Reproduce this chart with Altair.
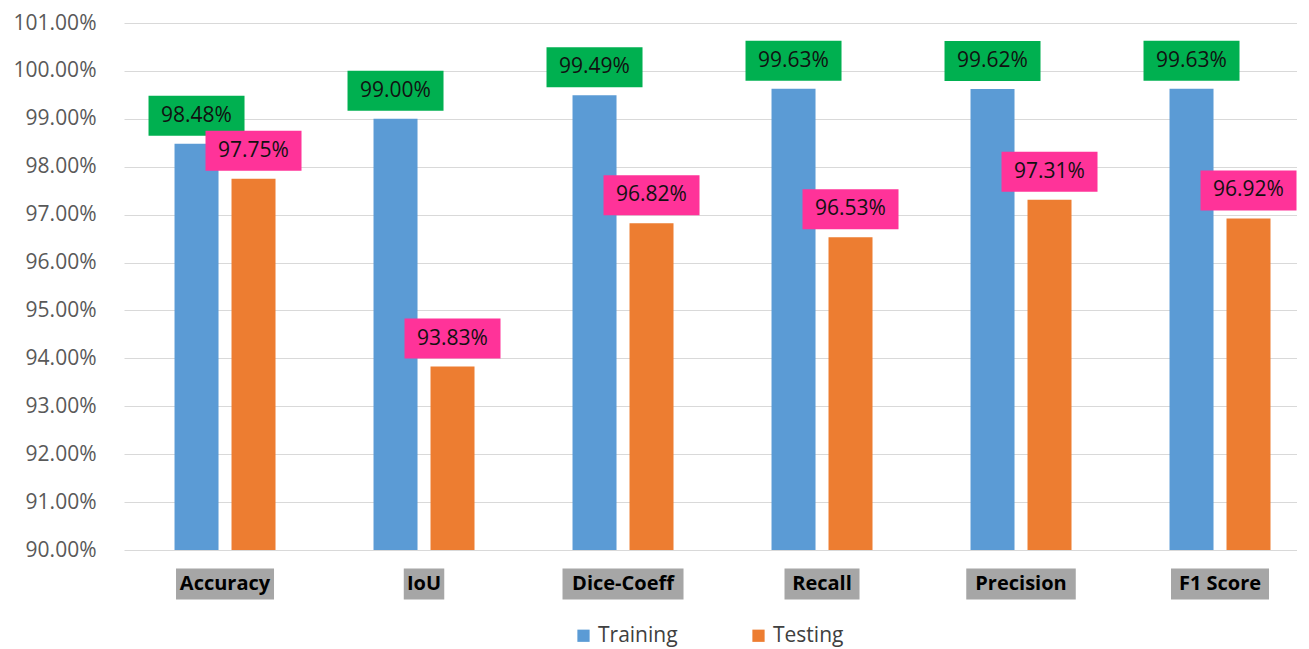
import altair as alt
import pandas as pd

categories = ["Accuracy", "IoU", "Dice-Coeff", "Recall", "Precision", "F1 Score"]
training = [0.9848, 0.9900, 0.9949, 0.9963, 0.9962, 0.9963]
testing = [0.9775, 0.9383, 0.9682, 0.9653, 0.9731, 0.9692]
series = ["Training", "Testing"]
y_ticks = [0.90, 0.91, 0.92, 0.93, 0.94, 0.95, 0.96, 0.97, 0.98, 0.99, 1.00, 1.01]

rows = []
for c, tr, te in zip(categories, training, testing):
    rows.append({"metric": c, "series": "Training", "value": tr})
    rows.append({"metric": c, "series": "Testing", "value": te})
df = pd.DataFrame(rows)
cat_df = pd.DataFrame({"metric": categories})

FONT = "Open Sans"
BLUE, ORANGE = "#5b9bd5", "#ed7d31"
GREEN, PINK = "#00b050", "#ff3399"

x_enc = alt.X("metric:N", sort=categories, axis=None,
              scale=alt.Scale(paddingInner=0.4925, paddingOuter=0.1935, align=0.656))
xo_enc = alt.XOffset("series:N", sort=series,
                     scale=alt.Scale(paddingInner=0.228, paddingOuter=0))
y_scale = alt.Scale(domain=[0.90, 1.01], nice=False, zero=False)

bars = alt.Chart(df).mark_bar().encode(
    x=x_enc,
    xOffset=xo_enc,
    y=alt.Y("value:Q", scale=y_scale, title=None,
            axis=alt.Axis(values=y_ticks, format=".2%", labelFontSize=21,
                          labelColor="#595959", labelFont=FONT, labelPadding=28,
                          ticks=False, domain=False, gridColor="#d9d9d9")),
    y2=alt.datum(0.90),
    color=alt.Color("series:N", sort=series,
                    scale=alt.Scale(domain=series, range=[BLUE, ORANGE]),
                    legend=alt.Legend(title=None, orient="none", legendX=449, legendY=602,
                                      direction="horizontal", symbolType="square",
                                      symbolSize=150, labelFontSize=21, labelFont=FONT,
                                      labelColor="#404040", columnPadding=70,
                                      symbolStrokeWidth=0)),
)

box_path = "M-1,-0.4167L1,-0.4167L1,0.4167L-1,0.4167Z"
boxes = alt.Chart(df).mark_point(shape=box_path, size=96 * 96, filled=True,
                                 opacity=1, strokeWidth=0, yOffset=-28).encode(
    x=x_enc,
    xOffset=xo_enc,
    y=alt.Y("value:Q", scale=y_scale),
    color=alt.condition("datum.series == 'Training'", alt.value(GREEN), alt.value(PINK)),
)

texts = alt.Chart(df).mark_text(dy=-28, fontSize=21, font=FONT, color="#111111",
                                baseline="middle").encode(
    x=x_enc,
    xOffset=xo_enc,
    y=alt.Y("value:Q", scale=y_scale),
    text=alt.Text("value:Q", format=".2%"),
)

lab_boxes = alt.Chart(cat_df).transform_calculate(
    w="length(datum.metric) * 11.5 + 6"
).transform_calculate(
    sz="datum.w * datum.w",
    path="'M-1,' + (-31 / datum.w) + 'L1,' + (-31 / datum.w) + 'L1,' + (31 / datum.w) + 'L-1,' + (31 / datum.w) + 'Z'",
).mark_point(filled=True, opacity=1, strokeWidth=0, color="#a6a6a6").encode(
    x=x_enc,
    y=alt.value(561),
    shape=alt.Shape("path:N", scale=None, legend=None),
    size=alt.Size("sz:Q", scale=None, legend=None),
)

lab_texts = alt.Chart(cat_df).mark_text(fontSize=20, fontWeight="bold", font=FONT,
                                        color="#000000", baseline="middle").encode(
    x=x_enc,
    y=alt.value(561),
    text="metric:N",
)

chart = alt.layer(bars, boxes, texts, lab_boxes, lab_texts).properties(
    width=1173, height=527,
    padding={"left": 5, "right": 0, "top": 4, "bottom": 3},
).configure_view(stroke=None)

chart.save("out.html", embed_options={"renderer": "svg", "actions": False})
